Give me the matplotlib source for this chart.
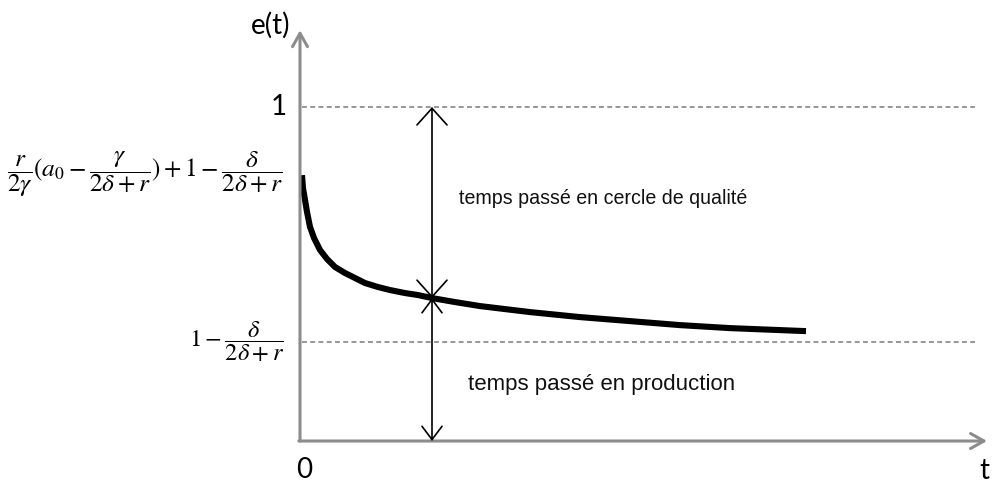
import matplotlib
matplotlib.use("Agg")
import matplotlib.pyplot as plt

# ---- data (t in abstract time units, e(t) normalised so that the top level = 1) ----
curve_t = [0.02, 0.03, 0.05, 0.07, 0.10, 0.14, 0.20, 0.27, 0.35, 0.45, 0.55, 0.65, 0.78, 0.90,
           1.05, 1.18, 1.32, 1.55, 1.80, 2.05, 2.30, 2.80, 3.30, 3.80, 4.30, 5.06]
curve_e = [0.796, 0.757, 0.722, 0.686, 0.641, 0.608, 0.572, 0.545, 0.521, 0.503, 0.488, 0.473,
           0.461, 0.452, 0.443, 0.437, 0.428, 0.416, 0.404, 0.395, 0.386, 0.371, 0.359, 0.347,
           0.338, 0.329]
level_high = 1.0
level_low = 0.296
arrow_t = 1.32
arrow_e = 0.428
t_axis_end = 6.87
e_axis_end = 1.23
dash_end = 6.75

label_start = r"$\dfrac{r}{2\gamma}(a_0-\dfrac{\gamma}{2\delta+r})+1-\dfrac{\delta}{2\delta+r}$"
label_low = r"$1-\dfrac{\delta}{2\delta+r}$"
text_quality = "temps passé en cercle de qualité"
text_production = "temps passé en production"

plt.rcParams["mathtext.fontset"] = "stix"

fig = plt.figure(figsize=(10.01, 4.87), dpi=100)
ax = fig.add_axes([0, 0, 1, 1])
ax.set_xlim(-3.00, 7.01)
ax.set_ylim(-0.1377, 1.3204)
ax.axis("off")

axis_col = "#8c8c8c"
# axes with arrows
ax.annotate("", xy=(0, e_axis_end), xytext=(0, 0),
            arrowprops=dict(arrowstyle="->,head_length=0.8,head_width=0.45", color=axis_col,
                            lw=2.2, mutation_scale=12, shrinkA=0, shrinkB=0))
ax.annotate("", xy=(t_axis_end, 0), xytext=(-0.012, 0),
            arrowprops=dict(arrowstyle="->,head_length=0.8,head_width=0.45", color=axis_col,
                            lw=2.2, mutation_scale=12, shrinkA=0, shrinkB=0))

# dashed levels
for lv in (level_high, level_low):
    ax.plot([0.02, dash_end], [lv, lv], color="#7a7a7a", lw=1.1, dashes=(3.2, 2.2))

# curve
ax.plot(curve_t, curve_e, color="black", lw=4.4, solid_capstyle="butt", solid_joinstyle="round")

# double arrows
ax.annotate("", xy=(arrow_t, level_high), xytext=(arrow_t, arrow_e),
            arrowprops=dict(arrowstyle="<->,head_length=1.0,head_width=0.9", color="black",
                            lw=1.2, mutation_scale=12, shrinkA=0, shrinkB=0))
ax.annotate("", xy=(arrow_t, arrow_e), xytext=(arrow_t, 0),
            arrowprops=dict(arrowstyle="<->,head_length=0.8,head_width=0.6", color="black",
                            lw=1.2, mutation_scale=12, shrinkA=0, shrinkB=0))

# labels
ax.text(1.59, 0.727, text_quality, fontsize=14.1, family="Liberation Sans",
        ha="left", va="center", color="#111111")
ax.text(1.68, 0.17, text_production, fontsize=16, family="Liberation Sans",
        ha="left", va="center", color="#111111")

ax.text(-0.29, 1.245, "e(t)", fontsize=20, family="Lato", ha="center", va="center")
ax.text(-0.13, 1.0, "1", fontsize=20, family="Lato", ha="right", va="center")
ax.text(0.04, -0.087, "0", fontsize=20, family="Lato", ha="center", va="center")
ax.text(6.84, -0.09, "t", fontsize=20, family="Lato", ha="center", va="center")

ax.text(-1.55, 0.80, label_start, fontsize=18.3, ha="center", va="center")
ax.text(-0.635, level_low, label_low, fontsize=17.6, ha="center", va="center")

fig.savefig("out.png", dpi=100)
